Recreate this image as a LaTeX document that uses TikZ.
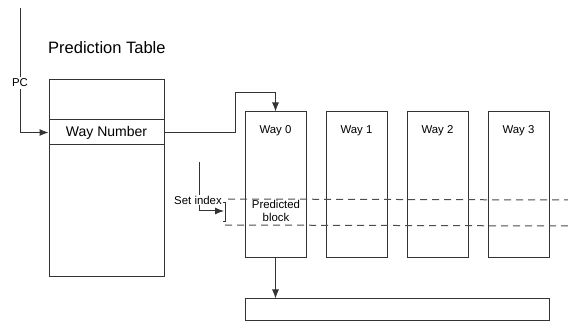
\documentclass[tikz,border=0pt]{standalone}
\usepackage{fontspec}
\setmainfont{Liberation Sans}
\usetikzlibrary{arrows.meta,positioning,calc}
\tikzset{
  box/.style={draw=black!80, line width=1pt},
  conn/.style={-{Latex[length=9pt,width=7pt]}, draw=black!80, line width=1pt},
  rowline/.style={draw=black!70, line width=1pt, dash pattern=on 7pt off 5pt},
  note/.style={font=\fontsize{11.4}{13}\selectfont, align=center, inner sep=1pt},
  title/.style={font=\fontsize{16.5}{19}\selectfont, inner sep=0pt}
}
\begin{document}
\begin{tikzpicture}[x=1pt,y=-1pt]
  \useasboundingbox (0,0) rectangle (568,323);
  % prediction table
  \node[title, anchor=west] (ttl) at (48,48) {Prediction Table};
  \node[box, minimum width=115pt, minimum height=197pt] (table) at (106.5,178.5) {};
  \node[box, minimum width=115pt, minimum height=25pt, font=\fontsize{14}{16}\selectfont] (waynum) at (106.5,132.5) {Way Number};
  % ways
  \foreach \i in {0,...,3}{
    \node[box, minimum width=61pt, minimum height=146pt] (way\i) at ({275.5+81*\i},185) {};
    \node[note] (wl\i) at ([yshift=-19pt]way\i.north) {Way \i};
  }
  \node[box, minimum width=304pt, minimum height=22pt] (out) at (397,310) {};
  % PC input
  \coordinate (pcin) at (20,8);
  \draw[conn] (pcin) |- (waynum.west);
  \node[note, fill=white, inner sep=2pt] (pc) at (20,83) {PC};
  % way number selects the way
  \coordinate (bend) at (235,93);
  \draw[conn] (waynum.east) -| (bend) -| (way0.north);
  \draw[conn] (way0.south) -- (way0.south |- out.north);
  % set index
  \draw[rowline] (228,199) -- (568,200);
  \draw[rowline] (225,225) -- (568,226);
  \coordinate (sitop) at (199,162);
  \coordinate (sibend) at (199,211);
  \coordinate (brk) at (224,211);
  \draw[box, line width=0.7pt] (221,202) -- (225,202) -- (225,221) -- (223,221);
  \draw[conn] (sitop) -- (sibend) -- (brk);
  \node[note, fill=white] (setidx) at (198,200) {Set index};
  \node[note] (pred) at (276,211) {Predicted\\block};
\end{tikzpicture}
\end{document}
